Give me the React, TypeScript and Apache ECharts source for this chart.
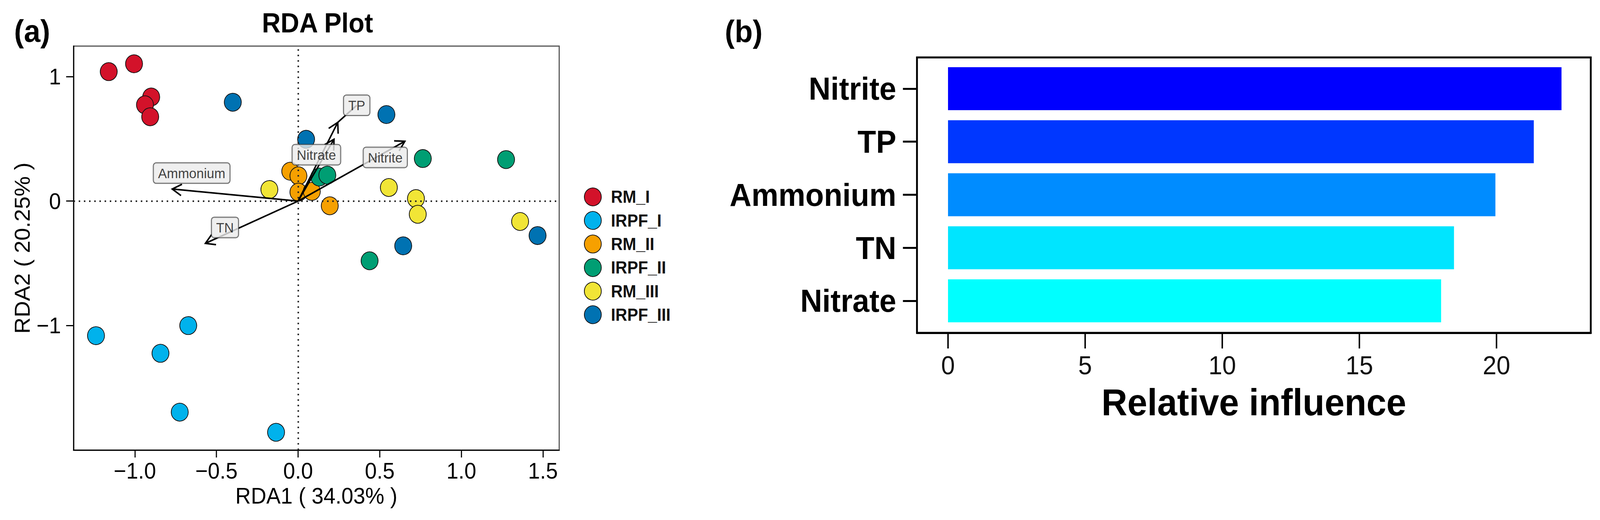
import React, { useEffect, useRef } from 'react';
import * as echarts from 'echarts';

// ---------- Panel (a): RDA data ----------
const groupNames = ['RM_I', 'IRPF_I', 'RM_II', 'IRPF_II', 'RM_III', 'IRPF_III'];
const groupColors = ['#D3122A', '#00B2EC', '#F6A000', '#009E73', '#F1E536', '#0072B2'];

const rmI_x = [-1.16, -1.005, -0.9, -0.938, -0.906];
const rmI_y = [1.041, 1.104, 0.837, 0.774, 0.678];
const irpfI_x = [-1.238, -0.673, -0.843, -0.725, -0.135];
const irpfI_y = [-1.082, -1.001, -1.224, -1.697, -1.859];
const rmII_x = [-0.048, 0.002, 0.002, 0.084, 0.194];
const rmII_y = [0.24, 0.203, 0.072, 0.078, -0.038];
const irpfII_x = [0.13, 0.179, 0.764, 1.274, 0.438];
const irpfII_y = [0.193, 0.209, 0.342, 0.334, -0.48];
const rmIII_x = [-0.176, 0.556, 0.722, 0.733, 1.36];
const rmIII_y = [0.093, 0.109, 0.02, -0.106, -0.164];
const irpfIII_x = [-0.4, 0.541, 0.049, 0.644, 1.467];
const irpfIII_y = [0.795, 0.696, 0.497, -0.36, -0.277];

const groupX = [rmI_x, irpfI_x, rmII_x, irpfII_x, rmIII_x, irpfIII_x];
const groupY = [rmI_y, irpfI_y, rmII_y, irpfII_y, rmIII_y, irpfIII_y];

// Environmental vectors
const envNames = ['Nitrite', 'TP', 'Nitrate', 'Ammonium', 'TN'];
const envX = [0.654, 0.243, 0.22, -0.771, -0.568];
const envY = [0.481, 0.633, 0.497, 0.097, -0.34];
const envLabelX = [0.534, 0.359, 0.112, -0.652, -0.448];
const envLabelY = [0.351, 0.77, 0.373, 0.225, -0.212];
const envLeader = [0, 1, 0, 0, 0];

const rdaXTicks = [-1, -0.5, 0, 0.5, 1, 1.5];
const rdaYTicks = [-1, 0, 1];

// ---------- Panel (b): relative influence ----------
const infNames = ['Nitrite', 'TP', 'Ammonium', 'TN', 'Nitrate'];
const infValues = [22.37, 21.36, 19.96, 18.45, 17.98];
const infColors = ['#0000FF', '#0037FF', '#008CFF', '#00E5FF', '#00FFFF'];
const infTicks = [0, 5, 10, 15, 20];

const W = 4329;
const H = 1331;
const FONT = 'Liberation Sans, Arial, Helvetica, sans-serif';

const fmtMinus = (v: number, d: number) =>
  (v < 0 ? '\u2212' : '') + (d > 0 ? Math.abs(v).toFixed(d) : String(Math.abs(v)));

function buildOption() {
  const scatterSeries = groupNames.map((name, gi) => ({
    type: 'scatter',
    name,
    xAxisIndex: 0,
    yAxisIndex: 0,
    symbol: 'circle',
    symbolSize: 46,
    z: 2,
    itemStyle: { color: groupColors[gi], borderColor: '#111', borderWidth: 2, opacity: 1 },
    emphasis: { disabled: true },
    data: groupX[gi].map((x, i) => [x, groupY[gi][i]]),
  }));

  const dottedSeries = {
    type: 'line',
    name: 'zero',
    xAxisIndex: 0,
    yAxisIndex: 0,
    data: [],
    z: 3,
    markLine: {
      silent: true,
      symbol: 'none',
      z: 3,
      label: { show: false },
      lineStyle: { color: '#222', type: [4, 10], width: 4, cap: 'butt' },
      data: [{ xAxis: 0 }, { yAxis: 0 }],
    },
  };

  const arrowSeries = {
    type: 'custom',
    name: 'arrows',
    xAxisIndex: 0,
    yAxisIndex: 0,
    z: 4,
    silent: true,
    data: envX.map((x, i) => [x, envY[i], envLabelX[i], envLabelY[i], envLeader[i]]),
    renderItem: (params: any, api: any) => {
      const o = api.coord([0, 0]);
      const t = api.coord([api.value(0), api.value(1)]);
      const ang = Math.atan2(t[1] - o[1], t[0] - o[0]);
      const L = 29;
      const a = Math.PI / 6;
      const b1 = [t[0] - L * Math.cos(ang - a), t[1] - L * Math.sin(ang - a)];
      const b2 = [t[0] - L * Math.cos(ang + a), t[1] - L * Math.sin(ang + a)];
      const style = { stroke: '#000', lineWidth: 4, fill: null, lineCap: 'butt', lineJoin: 'miter' };
      const children: any[] = [
        { type: 'line', shape: { x1: o[0], y1: o[1], x2: t[0], y2: t[1] }, style },
        { type: 'polyline', shape: { points: [b1, t, b2] }, style },
      ];
      if (api.value(4) > 0) {
        const l = api.coord([api.value(2), api.value(3)]);
        children.push({ type: 'line', shape: { x1: t[0], y1: t[1], x2: l[0], y2: l[1] }, style });
      }
      return { type: 'group', children };
    },
  };

  const labelSeries = {
    type: 'scatter',
    name: 'envLabels',
    xAxisIndex: 0,
    yAxisIndex: 0,
    z: 6,
    symbolSize: 1,
    silent: true,
    itemStyle: { color: 'rgba(0,0,0,0)' },
    label: {
      show: true,
      position: 'inside',
      formatter: (p: any) => p.data[2],
      fontFamily: FONT,
      fontSize: 36,
      lineHeight: 40,
      color: '#111',
      backgroundColor: '#EBEBEB',
      borderColor: '#333',
      borderWidth: 2,
      borderRadius: 7,
      padding: [6, 12, 5, 12],
    },
    data: envNames.map((n, i) => [envLabelX[i], envLabelY[i], n]),
  };

  const barSeries = {
    type: 'bar',
    name: 'influence',
    xAxisIndex: 2,
    yAxisIndex: 2,
    barWidth: 110,
    silent: true,
    data: infValues.map((v, i) => ({ value: v, itemStyle: { color: infColors[i] } })),
  };

  return {
    animation: false,
    backgroundColor: '#fff',
    textStyle: { fontFamily: FONT },
    graphic: [
      { type: 'text', x: 38, y: 80, style: { text: '(a)', font: `bold 80px ${FONT}`, fill: '#000', textVerticalAlign: 'middle' } },
      { type: 'text', x: 859, y: 58, style: { text: 'RDA Plot', font: `bold 70px ${FONT}`, fill: '#000', textAlign: 'center', textVerticalAlign: 'middle' } },
      { type: 'text', x: 1961, y: 81, style: { text: '(b)', font: `bold 80px ${FONT}`, fill: '#000', textVerticalAlign: 'middle' } },
    ],
    legend: {
      data: groupNames,
      orient: 'vertical',
      left: 1575,
      top: 475,
      itemWidth: 46,
      itemHeight: 46,
      itemGap: 12.3,
      icon: 'circle',
      selectedMode: false,
      itemStyle: { borderColor: '#111', borderWidth: 2 },
      textStyle: { fontFamily: FONT, fontSize: 44, fontWeight: 'bold', color: '#111', padding: [0, 0, 0, 21] },
    },
    grid: [
      { left: 199, top: 118, width: 1314, height: 1034, show: true, borderColor: '#555', borderWidth: 3, containLabel: false },
      { left: 2481, top: 147, width: 1823, height: 705, show: true, borderColor: '#000', borderWidth: 5, containLabel: false },
      { left: 2481, top: 159, width: 1823, height: 679, show: false, containLabel: false },
    ],
    xAxis: [
      {
        type: 'value',
        gridIndex: 0,
        min: -1.3756,
        max: 1.5995,
        splitLine: { show: false },
        axisLine: { show: true, onZero: false, lineStyle: { color: '#000', width: 3 } },
        axisTick: { show: true, customValues: rdaXTicks, length: 19, lineStyle: { color: '#000', width: 3 } },
        axisLabel: {
          customValues: rdaXTicks,
          formatter: (v: number) => fmtMinus(v, 1),
          fontFamily: FONT,
          fontSize: 58,
          color: '#000',
          margin: 24,
        },
        name: 'RDA1 ( 34.03% )',
        nameLocation: 'middle',
        nameGap: 88,
        nameTextStyle: { fontFamily: FONT, fontSize: 58, color: '#000' },
      },
      {
        type: 'value',
        gridIndex: 1,
        min: -1.132,
        max: 23.437,
        splitLine: { show: false },
        axisLine: { show: true, onZero: false, lineStyle: { color: '#000', width: 5 } },
        axisTick: { show: true, customValues: infTicks, length: 40, lineStyle: { color: '#000', width: 4 } },
        axisLabel: {
          customValues: infTicks,
          fontFamily: FONT,
          fontSize: 67,
          color: '#111',
          margin: 49,
        },
        name: 'Relative influence',
        nameLocation: 'middle',
        nameGap: 129,
        nameTextStyle: { fontFamily: FONT, fontSize: 97, fontWeight: 'bold', color: '#000' },
      },
      {
        type: 'value',
        gridIndex: 2,
        min: -1.132,
        max: 23.437,
        show: false,
        splitLine: { show: false },
      },
    ],
    yAxis: [
      {
        type: 'value',
        gridIndex: 0,
        min: -2.002,
        max: 1.2463,
        splitLine: { show: false },
        axisLine: { show: true, onZero: false, lineStyle: { color: '#000', width: 3 } },
        axisTick: { show: true, customValues: rdaYTicks, length: 20, lineStyle: { color: '#000', width: 3 } },
        axisLabel: {
          customValues: rdaYTicks,
          formatter: (v: number) => fmtMinus(v, 0),
          fontFamily: FONT,
          fontSize: 58,
          color: '#000',
          margin: 34,
        },
        name: 'RDA2 ( 20.25% )',
        nameLocation: 'middle',
        nameRotate: 90,
        nameGap: 110,
        nameTextStyle: { fontFamily: FONT, fontSize: 58, color: '#000' },
      },
      {
        type: 'value',
        gridIndex: 1,
        min: 0,
        max: 1,
        show: false,
        splitLine: { show: false },
      },
      {
        type: 'category',
        gridIndex: 2,
        inverse: true,
        data: infNames,
        axisLine: { show: false, onZero: false },
        axisTick: { show: true, alignWithLabel: true, length: 38, lineStyle: { color: '#000', width: 5 } },
        axisLabel: {
          fontFamily: FONT,
          fontSize: 82,
          fontWeight: 'bold',
          color: '#000',
          margin: 56,
        },
        splitLine: { show: false },
      },
    ],
    series: [...scatterSeries, dottedSeries, arrowSeries, labelSeries, barSeries],
  };
}

export default function App() {
  const ref = useRef<HTMLDivElement>(null);
  useEffect(() => {
    const el = ref.current;
    if (!el) return;
    const vw = window.innerWidth || W;
    const vh = window.innerHeight || H;
    const sx = vw / W;
    const sy = vh / H;
    el.style.transform = `scale(${sx}, ${sy})`;
    const chart = echarts.init(el, null, { renderer: 'svg', width: W, height: H });
    chart.setOption(buildOption() as any);
    return () => chart.dispose();
  }, []);
  return (
    <div style={{ position: 'fixed', left: 0, top: 0, right: 0, bottom: 0, overflow: 'hidden', background: '#fff' }}>
      <div
        ref={ref}
        style={{ position: 'absolute', left: 0, top: 0, width: W, height: H, transformOrigin: '0 0', background: '#fff' }}
      />
    </div>
  );
}
